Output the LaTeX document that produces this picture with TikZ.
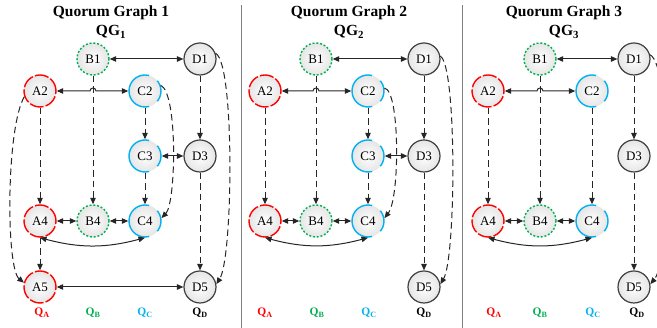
\documentclass[tikz,border=0pt]{standalone}
\usepackage{fontspec}
\setmainfont{Liberation Serif}
\usetikzlibrary{arrows.meta,calc}
\definecolor{qred}{HTML}{FF0000}
\definecolor{qgreen}{HTML}{00B050}
\definecolor{qcyan}{HTML}{00B0F0}
\definecolor{qdark}{HTML}{404040}
\tikzset{
 nodebase/.style={circle, minimum size=32pt, inner sep=0pt, font=\fontsize{13}{15}\selectfont, inner color=white, outer color=gray!20},
 qa/.style={nodebase, draw=qred, line width=1.4pt, dash pattern=on 14pt off 2.2pt},
 qb/.style={nodebase, draw=qgreen, line width=1.4pt, dash pattern=on 2pt off 1.8pt},
 qc/.style={nodebase, draw=qcyan, line width=1.4pt, dash pattern=on 22.3pt off 9.8pt on 58.6pt off 9.8pt, dash phase=11.2pt},
 qd/.style={nodebase, draw=qdark, line width=1.2pt},
 link/.style={line width=1pt, draw=black!85, {Triangle[length=6.5pt,width=5.5pt]}-{Triangle[length=6.5pt,width=5.5pt]}},
 flow/.style={line width=1pt, draw=black!85, dash pattern=on 6.5pt off 4pt, -{Triangle[length=6.5pt,width=5.5pt]}},
 qlabel/.style={font=\fontsize{11.5}{13}\selectfont\bfseries},
 ttl/.style={font=\fontsize{15.5}{17}\selectfont\bfseries},
 divider/.style={draw=gray, line width=1pt}
}
\begin{document}
\begin{tikzpicture}[x=1pt,y=1pt]
\useasboundingbox (0,0) rectangle (657,328);
% dividers
\draw[divider] (241,0) -- (241,323);
\draw[divider] (462,0) -- (462,323);

% ---------------- Panel 1 ----------------
\node[ttl] (t1) at (111,315) {Quorum Graph 1};
\node[ttl] (g1) at (111,296) {QG\textsubscript{1}};
\node[qb] (p1B1) at (93,269) {B1};
\node[qd] (p1D1) at (200,269) {D1};
\node[qa] (p1A2) at (40,237) {A2};
\node[qc] (p1C2) at (145,237) {C2};
\node[qc] (p1C3) at (145,172) {C3};
\node[qd] (p1D3) at (200,172) {D3};
\node[qa] (p1A4) at (40,107) {A4};
\node[qb] (p1B4) at (93,107) {B4};
\node[qc] (p1C4) at (145,107) {C4};
\node[qa] (p1A5) at (40,41) {A5};
\node[qd] (p1D5) at (200,41) {D5};
\node[qlabel, text=qred] (p1QA) at (42,15) {Q\textsubscript{A}};
\node[qlabel, text=qgreen] (p1QB) at (93,15) {Q\textsubscript{B}};
\node[qlabel, text=qcyan] (p1QC) at (145,15) {Q\textsubscript{C}};
\node[qlabel, text=black] (p1QD) at (200,15) {Q\textsubscript{D}};

\draw[link] (p1B1) -- (p1D1);
\draw[link] (p1A2.east) -- ($(p1B1|-p1A2)+(-3,0)$) arc[start angle=180,end angle=0,radius=3pt] -- (p1C2.west);
\draw[flow] (p1B1) -- (p1B4);
\draw[flow] (p1A2) -- (p1A4);
\draw[flow] (p1C2) -- (p1C3);
\draw[flow] (p1C3) -- (p1C4);
\draw[flow] (p1D1) -- (p1D3);
\draw[flow] (p1D3) -- (p1D5);
\draw[link] (p1C3) -- (p1D3);
\draw[link] (p1A4) -- (p1B4);
\draw[link] (p1B4) -- (p1C4);
\draw[link] (p1A4.south) to[bend right=15] (p1C4.south);
\draw[flow] (p1A4) -- (p1A5);
\draw[link] (p1A5) -- (p1D5);
\draw[flow] (p1A2.200) .. controls (6,200) and (6,60) .. (p1A5.165);
\draw[flow] (p1C2.20) .. controls (178,235) and (176,125) .. (p1C4.10);
\draw[flow] (p1D1.20) .. controls (235,265) and (233,70) .. (p1D5.10);

% ---------------- Panel 2 ----------------
\node[ttl] (t2) at (349,315) {Quorum Graph 2};
\node[ttl] (g2) at (349,296) {QG\textsubscript{2}};
\node[qb] (p2B1) at (316,269) {B1};
\node[qd] (p2D1) at (424,269) {D1};
\node[qa] (p2A2) at (265,237) {A2};
\node[qc] (p2C2) at (368,237) {C2};
\node[qc] (p2C3) at (368,172) {C3};
\node[qd] (p2D3) at (424,172) {D3};
\node[qa] (p2A4) at (265,107) {A4};
\node[qb] (p2B4) at (316,107) {B4};
\node[qc] (p2C4) at (368,107) {C4};
\node[qd] (p2D5) at (424,41) {D5};
\node[qlabel, text=qred] (p2QA) at (265,15) {Q\textsubscript{A}};
\node[qlabel, text=qgreen] (p2QB) at (317,15) {Q\textsubscript{B}};
\node[qlabel, text=qcyan] (p2QC) at (369,15) {Q\textsubscript{C}};
\node[qlabel, text=black] (p2QD) at (424,15) {Q\textsubscript{D}};

\draw[link] (p2B1) -- (p2D1);
\draw[link] (p2A2.east) -- ($(p2B1|-p2A2)+(-3,0)$) arc[start angle=180,end angle=0,radius=3pt] -- (p2C2.west);
\draw[flow] (p2B1) -- (p2B4);
\draw[flow] (p2A2) -- (p2A4);
\draw[flow] (p2C2) -- (p2C3);
\draw[flow] (p2C3) -- (p2C4);
\draw[flow] (p2D1) -- (p2D3);
\draw[flow] (p2D3) -- (p2D5);
\draw[link] (p2C3) -- (p2D3);
\draw[link] (p2A4) -- (p2B4);
\draw[link] (p2B4) -- (p2C4);
\draw[link] (p2A4.south) to[bend right=15] (p2C4.south);
\draw[flow] (p2C2.10) .. controls (400,238) and (400,130) .. (p2C4.10);
\draw[flow] (p2D1.10) .. controls (457,262) and (456,70) .. (p2D5.10);

% ---------------- Panel 3 ----------------
\node[ttl] (t3) at (564,315) {Quorum Graph 3};
\node[ttl] (g3) at (564,296) {QG\textsubscript{3}};
\node[qb] (p3B1) at (540,269) {B1};
\node[qd] (p3D1) at (634,269) {D1};
\node[qa] (p3A2) at (488,237) {A2};
\node[qc] (p3C2) at (592,237) {C2};
\node[qd] (p3D3) at (634,172) {D3};
\node[qa] (p3A4) at (488,107) {A4};
\node[qb] (p3B4) at (540,107) {B4};
\node[qc] (p3C4) at (592,107) {C4};
\node[qd] (p3D5) at (634,41) {D5};
\node[qlabel, text=qred] (p3QA) at (494,15) {Q\textsubscript{A}};
\node[qlabel, text=qgreen] (p3QB) at (540,15) {Q\textsubscript{B}};
\node[qlabel, text=qcyan] (p3QC) at (593,15) {Q\textsubscript{C}};
\node[qlabel, text=black] (p3QD) at (637,15) {Q\textsubscript{D}};

\draw[link] (p3B1) -- (p3D1);
\draw[link] (p3A2.east) -- ($(p3B1|-p3A2)+(-3,0)$) arc[start angle=180,end angle=0,radius=3pt] -- (p3C2.west);
\draw[flow] (p3B1) -- (p3B4);
\draw[flow] (p3A2) -- (p3A4);
\draw[flow] (p3C2) -- (p3C4);
\draw[flow] (p3D1) -- (p3D3);
\draw[flow] (p3D3) -- (p3D5);
\draw[link] (p3A4) -- (p3B4);
\draw[link] (p3B4) -- (p3C4);
\draw[link] (p3A4.south) to[bend right=15] (p3C4.south);
\draw[flow] (p3D1.15) .. controls (672,262) and (672,70) .. (p3D5.10);
\end{tikzpicture}
\end{document}
